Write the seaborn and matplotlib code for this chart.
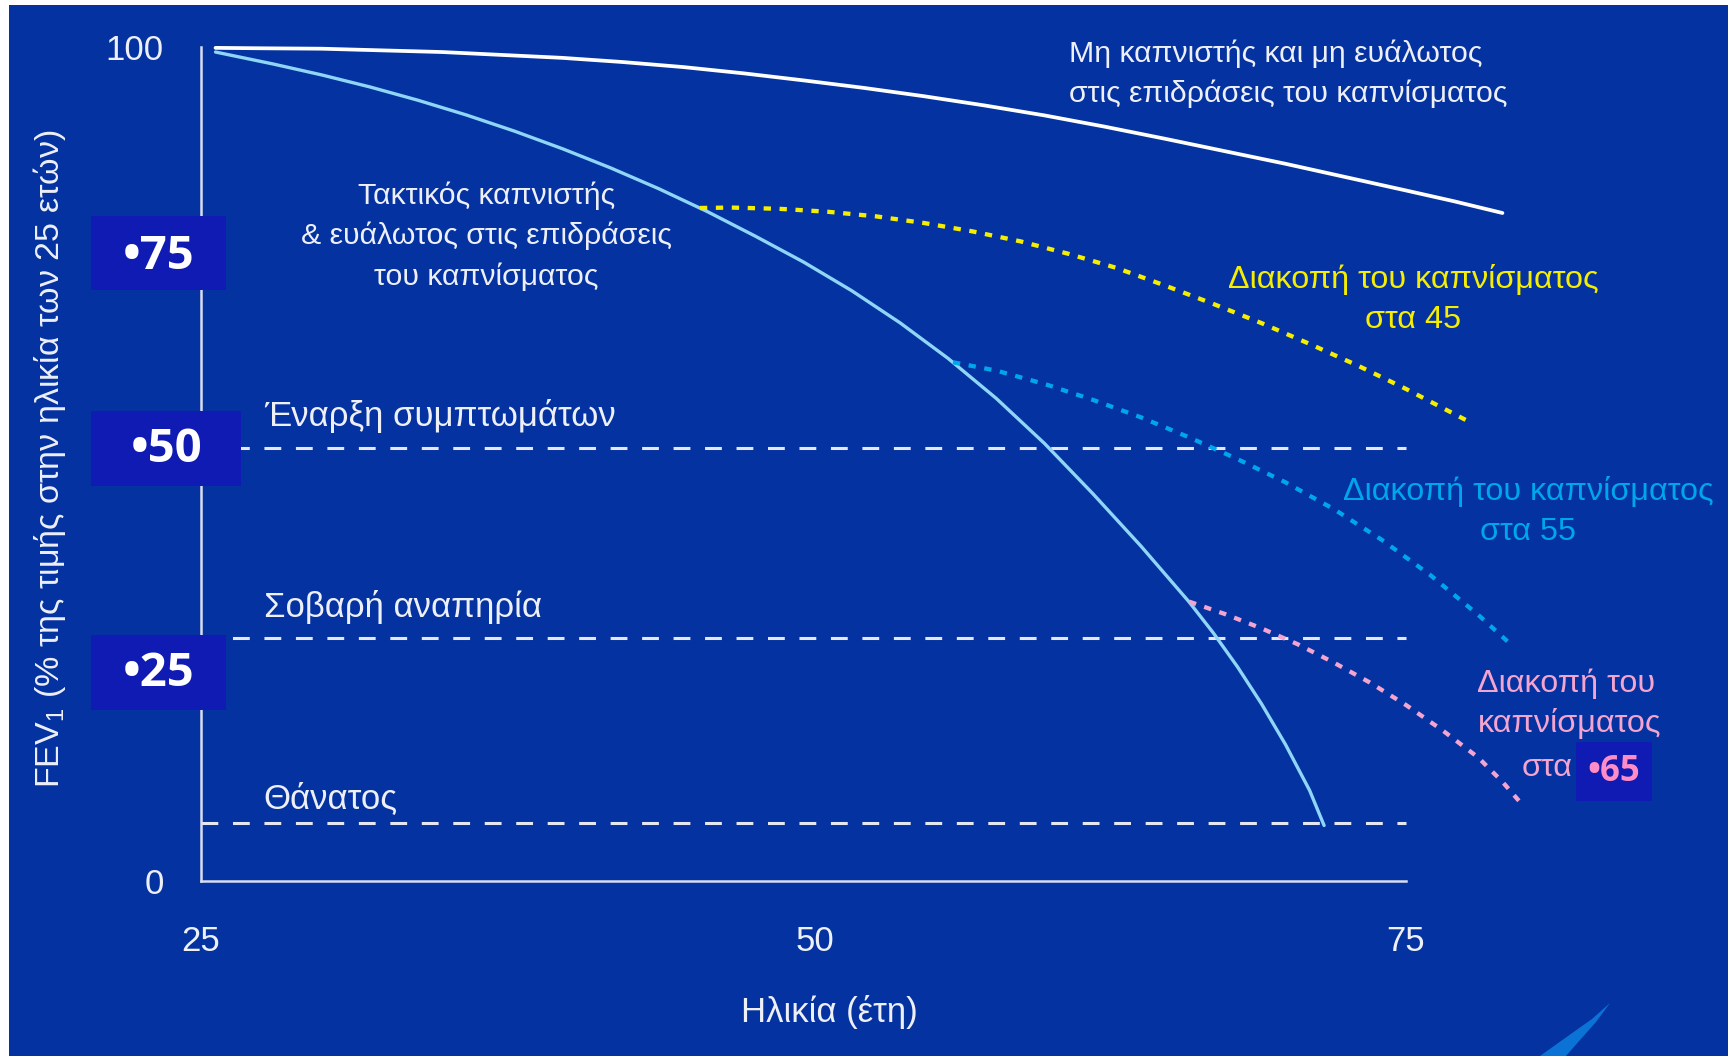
import matplotlib
matplotlib.use("Agg")
import matplotlib.pyplot as plt
from matplotlib.patches import Rectangle, Polygon
from matplotlib.transforms import ScaledTranslation
import seaborn as sns

# FEV1 (% of the value at age 25) against age (years)
nonsmoker_age = [25.6, 27.5, 30, 32.5, 35, 37.5, 40, 42.5, 45, 47.5, 50, 52.5, 55,
                 57.5, 60, 62.5, 65, 67.5, 70, 72.5, 75, 77, 79.0]
nonsmoker_fev = [99.9, 99.85, 99.8, 99.6, 99.4, 99.05, 98.7, 98.2, 97.6, 96.85, 96.0,
                 95.1, 94.1, 93.0, 91.8, 90.45, 89.0, 87.5, 86.0, 84.4, 82.8, 81.5, 80.1]

smoker_age = [25.6, 28, 30, 32, 34, 36, 38, 40, 42, 44, 46, 48, 50, 52, 54, 56,
              58, 60, 62, 64, 66, 67, 68, 69, 70, 71, 71.6]
smoker_fev = [99.4, 97.96, 96.66, 95.22, 93.62, 91.86, 89.92, 87.8, 85.5, 83.0, 80.28,
              77.32, 74.22, 70.78, 66.94, 62.66, 57.86, 52.46, 46.46, 40.16, 33.46,
              29.76, 25.71, 21.26, 16.36, 10.86, 6.66]

quit45_age = [45.7, 47, 49, 51, 53, 55, 57, 59, 61, 63, 65, 67, 69, 71, 73, 75, 77.6]
quit45_fev = [80.7, 80.75, 80.6, 80.25, 79.7, 78.9, 77.9, 76.7, 75.2, 73.5, 71.4, 69.2,
              66.9, 64.4, 61.8, 59.0, 55.1]

quit55_age = [56.2, 58, 60, 62, 64, 66, 68, 70, 72, 74, 76, 78, 79.3]
quit55_fev = [62.2, 61.2, 59.6, 57.7, 55.6, 53.2, 50.6, 47.8, 44.6, 40.9, 36.7, 31.9, 28.5]

quit65_age = [66.0, 67.5, 69, 70.5, 72, 73.5, 75, 76.5, 78, 79, 79.9]
quit65_fev = [33.5, 32.0, 30.3, 28.4, 26.2, 23.8, 21.1, 18.1, 14.8, 11.9, 8.9]

threshold_fev = [51.9, 29.2, 7.0]
threshold_labels = ["Έναρξη συμπτωμάτων", "Σοβαρή αναπηρία", "Θάνατος"]

x_ticks = [25, 50, 75]
y_ticks = [0, 100]
level_values = [75, 50, 25]

BG = "#0432a0"
BOX = "#0f1bb2"
TXT = "#eef0f8"
YELLOW = "#f6ee00"
CYAN = "#00a6ec"
PINK = "#f3a4cf"
SKY = "#8fd6f6"

sns.set_theme(style="white")
plt.rcParams["font.family"] = ["Liberation Sans", "DejaVu Sans"]
plt.rcParams["mathtext.fontset"] = "custom"
plt.rcParams["mathtext.rm"] = "Liberation Sans"
plt.rcParams["mathtext.default"] = "regular"

fig = plt.figure(figsize=(17.33, 10.56), dpi=100, facecolor="white")
ax = fig.add_axes([9 / 1733, 0, 1719 / 1733, 1051 / 1056])
ax.set_facecolor(BG)
ax.set_xlim(17.03, 88.36)
ax.set_ylim(-20.98, 105.04)

# axes drawn as an open L from the origin (25, 0)
for s in ("top", "right"):
    ax.spines[s].set_visible(False)
ax.spines["left"].set_position(("data", 25))
ax.spines["bottom"].set_position(("data", 0))
ax.spines["left"].set_bounds(0, 100)
ax.spines["bottom"].set_bounds(25, 75)
for s in ("left", "bottom"):
    ax.spines[s].set_color("#d9ddf2")
    ax.spines[s].set_linewidth(1.8)
ax.set_xticks(x_ticks)
ax.set_yticks(y_ticks)
ax.tick_params(axis="both", length=0, labelsize=25, labelcolor=TXT)
ax.tick_params(axis="x", pad=32)
ax.tick_params(axis="y", pad=27)
ax.grid(False)
mid = ax.xaxis.get_major_ticks()[1].label1
mid.set_transform(mid.get_transform() + ScaledTranslation(0.11, 0, fig.dpi_scale_trans))

# clinical thresholds
ax.hlines(threshold_fev, 25, 75, colors="#e4e6f2", lw=2.2,
          linestyles=[(0, (5.5, 4.8))], zorder=2)

# courses of lung function
sns.lineplot(x=nonsmoker_age, y=nonsmoker_fev, color="white", lw=2.7,
             sort=False, estimator=None, ax=ax, zorder=3)
sns.lineplot(x=smoker_age, y=smoker_fev, color=SKY, lw=2.4,
             sort=False, estimator=None, ax=ax, zorder=3)
dots = dict(lw=3.1, linestyle=(0, (1.7, 2.0)), dash_capstyle="butt",
            sort=False, estimator=None, ax=ax, zorder=3)
sns.lineplot(x=quit45_age, y=quit45_fev, color=YELLOW, **dots)
sns.lineplot(x=quit55_age, y=quit55_fev, color=CYAN, **dots)
sns.lineplot(x=quit65_age, y=quit65_fev, color=PINK, **dots)
ax.set_xlabel("")
ax.set_ylabel("")

fs = 21.8
fs_stop = 23.3
# curve labels
ax.text(61.02, 98.24, "Μη καπνιστής και μη ευάλωτος", color=TXT, fontsize=fs,
        ha="left", va="baseline")
ax.text(61.02, 93.41, "στις επιδράσεις του καπνίσματος", color=TXT, fontsize=fs,
        ha="left", va="baseline")
for txt, y in zip(["Τακτικός καπνιστής", "& ευάλωτος στις επιδράσεις",
                   "του καπνίσματος"], [81.2, 76.35, 71.45]):
    ax.text(36.83, y, txt, color=TXT, fontsize=fs, ha="center", va="baseline")
ax.text(75.31, 71.1, "Διακοπή του καπνίσματος", color=YELLOW, fontsize=fs_stop,
        ha="center", va="baseline")
ax.text(75.31, 66.3, "στα 45", color=YELLOW, fontsize=fs_stop, ha="center", va="baseline")
ax.text(80.06, 45.68, "Διακοπή του καπνίσματος", color=CYAN, fontsize=fs_stop,
        ha="center", va="baseline")
ax.text(80.06, 40.89, "στα 55", color=CYAN, fontsize=fs_stop, ha="center", va="baseline")
ax.text(81.64, 22.70, "Διακοπή του", color=PINK, fontsize=fs_stop, ha="center",
        va="baseline")
ax.text(81.80, 17.90, "καπνίσματος", color=PINK, fontsize=fs_stop, ha="center",
        va="baseline")
ax.text(80.85, 12.59, "στα", color=PINK, fontsize=fs_stop, ha="center", va="baseline")

# threshold labels
for lab, y in zip(threshold_labels, [54.56, 31.6, 8.71]):
    ax.text(27.6, y, lab, color=TXT, fontsize=25, ha="left", va="baseline")

# axis titles
ax.text(51.06, -15.71, "Ηλικία (έτη)", color=TXT, fontsize=25,
        ha="center", va="center")
ax.text(18.73, 50.6, "FEV$_{1}$ (% της τιμής στην ηλικία των 25 ετών)",
        color=TXT, fontsize=24.5, rotation=90, ha="center", va="center")

# highlighted level marks
bold = dict(fontweight="bold", family=["Open Sans", "DejaVu Sans"], ha="center",
            va="center", zorder=7)
box_rects = [(20.44, 70.81, 5.60, 8.96), (20.44, 47.36, 6.22, 8.99),
             (20.44, 20.50, 5.60, 9.00)]
box_text_y = [74.94, 51.80, 24.94]
for val, (bx, by, bw, bh), ty in zip(level_values, box_rects, box_text_y):
    ax.add_patch(Rectangle((bx, by), bw, bh, facecolor=BOX, edgecolor="none", zorder=6))
    ax.text(bx + bw / 2, ty, f"•{val}", color="white", fontsize=34, **bold)
ax.add_patch(Rectangle((82.05, 9.59), 3.16, 7.08, facecolor=BOX, edgecolor="none",
                       zorder=6))
ax.text(83.63, 13.07, "•65", color="#ff8cc6", fontsize=25, **bold)

# decorative swoosh in the lower right corner
sw = [(1540, 1056), (1568, 1036), (1592, 1019), (1610, 1003),
      (1596, 1022), (1580, 1040), (1566, 1056)]
fig.patches.append(Polygon([(x / 1733, 1 - y / 1056) for x, y in sw], closed=True,
                           facecolor="#0b72d6", edgecolor="none",
                           transform=fig.transFigure, zorder=5))

fig.savefig("out.png", dpi=100, facecolor="white")
